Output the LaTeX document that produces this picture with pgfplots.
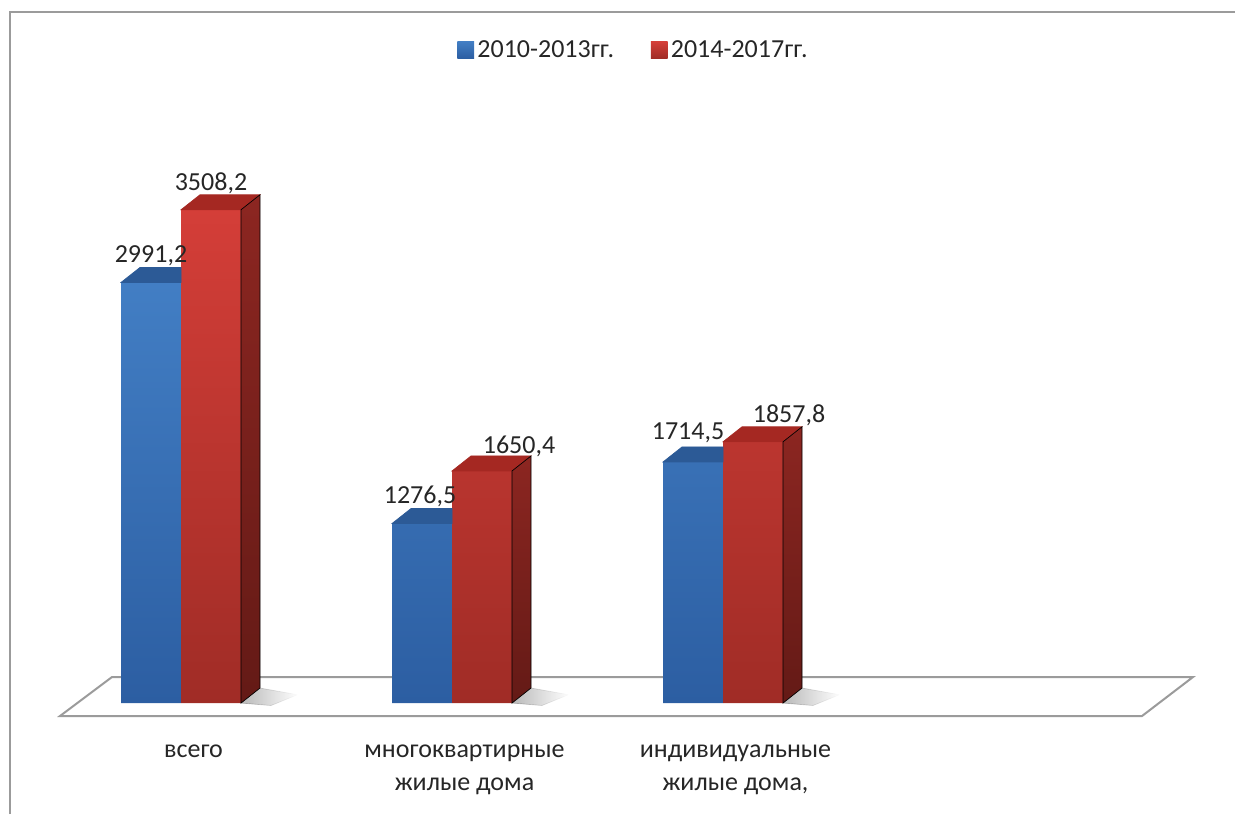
\documentclass[border=0pt]{standalone}
\usepackage{pgfplots}
\pgfplotsset{compat=1.18}
\usepackage{pgfplotstable}
\usetikzlibrary{fadings}
\usepackage{fontspec}
\setmainfont{Carlito}

\definecolor{blueTop}{RGB}{66,126,196}
\definecolor{blueBot}{RGB}{44,94,162}
\definecolor{blueCap}{RGB}{44,90,150}
\definecolor{redTop}{RGB}{212,62,56}
\definecolor{redBot}{RGB}{160,44,38}
\definecolor{redCap}{RGB}{165,40,34}
\definecolor{sideTop}{RGB}{140,38,33}
\definecolor{sideBot}{RGB}{100,26,22}
\definecolor{lineGray}{RGB}{155,155,155}
\definecolor{txt}{RGB}{38,38,38}

% x: category, v: value, lx/ly: label offset (px) from the top centre of the front face
\pgfplotstableread{
x v lx ly
0 2991.2 0 20
1 1276.5 -2 20
2 1714.5 -5 22
}\early
\pgfplotstableread{
x v lx ly
0 3508.2 0 19
1 1650.4 37 17
2 1857.8 36 19
}\late

\pgfdeclareplotmark{nothing}{}
\newcommand{\labfont}{\fontsize{15.6}{19.8}\selectfont}

% top and side faces of a prism, drawn at the top of each bar;
% #1 = left edge of the front face (pt, from the pair centre)
\pgfplotsset{
  prism/.style={
    forget plot, only marks, scatter, mark=nothing,
    visualization depends on={\thisrow{v} \as \val},
    visualization depends on={\thisrow{lx} \as \lx},
    visualization depends on={\thisrow{ly} \as \ly},
    point meta=\thisrow{v},
    scatter/@post marker code/.code={},
    nodes near coords={\pgfmathprintnumber[fixed,fixed zerofill,precision=1,use comma,1000 sep={},assume math mode=true]{\pgfplotspointmeta}},
    nodes near coords style={anchor=base, font=\labfont, text=txt, inner sep=0pt,
      xshift={(#1+18+0.6*\lx)*1pt}, yshift={0.6*\ly*1pt}},
  },
}

\begin{document}
\begin{tikzpicture}
% frame and floor, in px measured from the top-left corner
\begin{scope}[shift={(0pt,488.4pt)}, x=0.6pt, y=-0.6pt]
  \draw[lineGray, line width=1.2pt] (10,814) -- (10,12) -- (1235,12);
  \draw[lineGray, line width=1.2pt, line join=miter] (60,716) -- (1142,716) -- (1193,677) -- (112,677) -- cycle;
\end{scope}

\begin{axis}[
  at={(0pt,0pt)}, anchor=south west,
  scale only axis, width=741pt, height=488.4pt,
  xmin=-0.667897, xmax=3.889299,
  ymin=-789.4737, ymax=5000,
  clip=false,
  axis line style={draw=none},
  major tick length=0pt,
  ytick=\empty,
  xtick={0,1,2},
  xticklabels={всего,{многоквартирные\\жилые дома},{индивидуальные\\жилые дома,}},
  xticklabel style={align=center, font=\labfont, text=txt, anchor=north, yshift=45pt, xshift=7.5pt},
  legend columns=2,
  legend style={at={(0.5135,0.9386)}, anchor=center, draw=none, fill=none,
    font=\labfont, text=txt,
    /tikz/every even column/.append style={column sep=20pt}},
  legend image code/.code={\path[#1, draw=none] (0pt,-5pt) rectangle (10pt,5pt);},
]
% 2010-2013
\addplot[ybar, bar width=36pt, bar shift=-18pt, draw=none, top color=blueTop, bottom color=blueBot]
  table[x=x, y=v]{\early};
\addlegendentry{2010-2013гг.}
\addplot[prism=-36,
  scatter/@pre marker code/.code={%
    \fill[blueCap] (-36pt,0pt) -- (-24.6pt,9pt) -- (0pt,9pt) -- (0pt,0pt) -- cycle;
  }]
  table[x=x, y=v]{\early};
% 2014-2017
\addplot[ybar, bar width=36pt, bar shift=18pt, draw=none, top color=redTop, bottom color=redBot]
  table[x=x, y=v]{\late};
\addlegendentry{2014-2017гг.}
\addplot[prism=0,
  scatter/@pre marker code/.code={%
    \pgfmathsetmacro\barh{\val*0.08436}%
    \fill[black, opacity=0.28, path fading=east]
      (36pt,-\barh pt) -- (47.4pt,9pt-\barh pt) -- (70pt,5pt-\barh pt) -- (54pt,-1.5pt-\barh pt) -- cycle;
    \fill[redCap] (0pt,0pt) -- (11.4pt,9pt) -- (47.4pt,9pt) -- (36pt,0pt) -- cycle;
    \shade[top color=sideTop, bottom color=sideBot] (36pt,0pt) -- (47.4pt,9pt) -- (47.4pt,9pt-\barh pt) -- (36pt,-\barh pt) -- cycle;
  }]
  table[x=x, y=v]{\late};
\end{axis}
\pgfresetboundingbox
\path (0pt,0pt) rectangle (741pt,488.4pt);
\end{tikzpicture}
\end{document}
